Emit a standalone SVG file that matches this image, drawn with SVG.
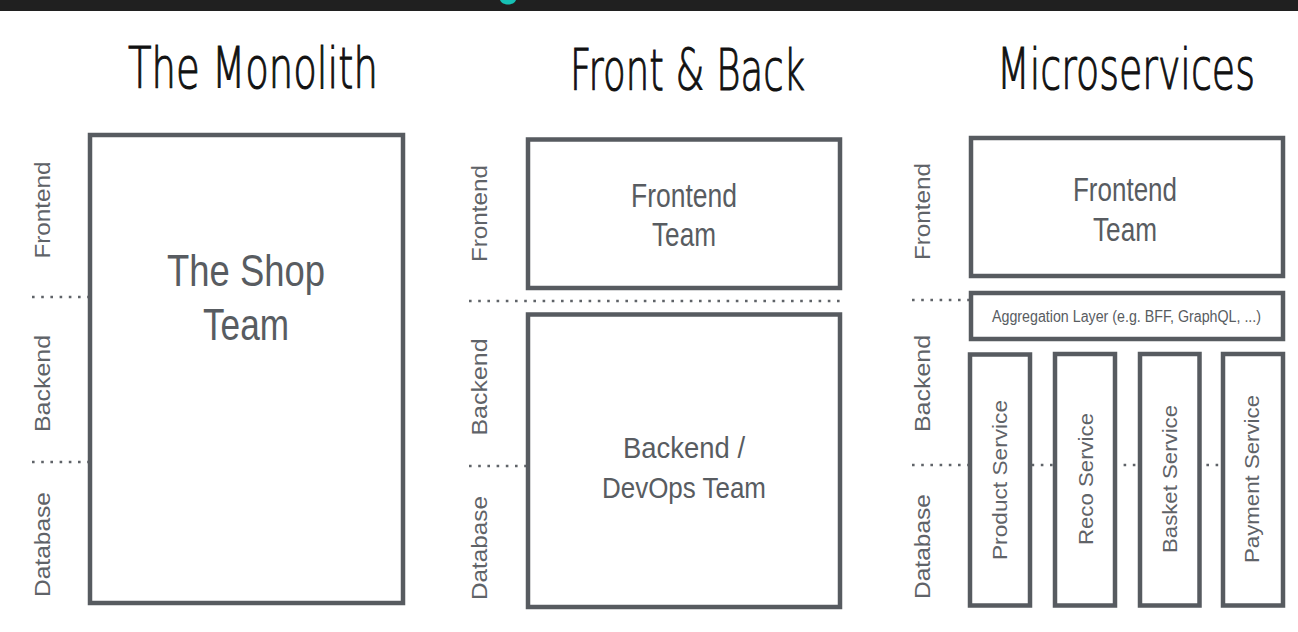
<svg xmlns="http://www.w3.org/2000/svg" width="1298" height="632" viewBox="0 0 1298 632">
  <style>
    .box { fill: #ffffff; stroke: #575b60; stroke-width: 4.5; }
    .div { stroke: #5f6368; stroke-width: 2.6; stroke-dasharray: 2.6 6.6; fill: none; }
    .title { font-family: "DejaVu Sans", "Liberation Sans", sans-serif; font-weight: 200; font-size: 57px; fill: #111111; stroke: #111111; stroke-width: 1.1; }
    .lbl { font-family: "Liberation Sans", Arial, sans-serif; font-size: 22px; fill: #5f6368; text-anchor: middle; }
    .big { font-family: "Liberation Sans", Arial, sans-serif; fill: #585c61; text-anchor: middle; }
    .svc { font-family: "Liberation Sans", Arial, sans-serif; font-size: 20px; fill: #5f6368; text-anchor: middle; }
  </style>

  <!-- header strip -->
  <rect x="0" y="0" width="1298" height="11" fill="#202020"/>
  <path d="M500,0 C502,6 514,6 516,0 Z" fill="#16c0b4"/>

  <!-- column titles, drawn condensed -->
  <g id="titles">
    <text class="title" transform="translate(128,88) scale(0.62,1)" textLength="403" lengthAdjust="spacingAndGlyphs">The Monolith</text>
    <text class="title" transform="translate(570,90) scale(0.62,1)" textLength="379" lengthAdjust="spacingAndGlyphs">Front &amp; Back</text>
    <text class="title" transform="translate(997,89) scale(0.62,1)" textLength="416" lengthAdjust="spacingAndGlyphs">Microservices</text>
  </g>

  <!-- layer dividers -->
  <g id="connectors">
    <line class="div" x1="32" y1="297" x2="88" y2="297"/>
    <line class="div" x1="32" y1="462" x2="88" y2="462"/>
    <line class="div" x1="469" y1="301" x2="842" y2="301"/>
    <line class="div" x1="469" y1="466" x2="526" y2="466"/>
    <line class="div" x1="912" y1="300" x2="969" y2="300"/>
    <line class="div" x1="912" y1="465" x2="1222" y2="465"/>
  </g>

  <!-- layer labels -->
  <g id="layer-labels">
    <text class="lbl" transform="translate(50,210) rotate(-90)" textLength="97" lengthAdjust="spacingAndGlyphs">Frontend</text>
    <text class="lbl" transform="translate(50,383.5) rotate(-90)" textLength="97" lengthAdjust="spacingAndGlyphs">Backend</text>
    <text class="lbl" transform="translate(50,544.5) rotate(-90)" textLength="105" lengthAdjust="spacingAndGlyphs">Database</text>

    <text class="lbl" transform="translate(487,213.5) rotate(-90)" textLength="97" lengthAdjust="spacingAndGlyphs">Frontend</text>
    <text class="lbl" transform="translate(487,387) rotate(-90)" textLength="97" lengthAdjust="spacingAndGlyphs">Backend</text>
    <text class="lbl" transform="translate(487,548) rotate(-90)" textLength="104" lengthAdjust="spacingAndGlyphs">Database</text>

    <text class="lbl" transform="translate(930,211.5) rotate(-90)" textLength="97" lengthAdjust="spacingAndGlyphs">Frontend</text>
    <text class="lbl" transform="translate(930,383.5) rotate(-90)" textLength="97" lengthAdjust="spacingAndGlyphs">Backend</text>
    <text class="lbl" transform="translate(930,546.5) rotate(-90)" textLength="105" lengthAdjust="spacingAndGlyphs">Database</text>
  </g>

  <!-- The Monolith -->
  <g id="shop-team">
    <rect class="box" x="90" y="135" width="313" height="468"/>
    <text class="big" x="246" y="286" font-size="45" textLength="158" lengthAdjust="spacingAndGlyphs">The Shop</text>
    <text class="big" x="246" y="340" font-size="45" textLength="86" lengthAdjust="spacingAndGlyphs">Team</text>
  </g>

  <!-- Front & Back -->
  <g id="fb-frontend-team">
    <rect class="box" x="528" y="139.5" width="312" height="148.5"/>
    <text class="big" x="684" y="207" font-size="33" textLength="106" lengthAdjust="spacingAndGlyphs">Frontend</text>
    <text class="big" x="684" y="246" font-size="33" textLength="64" lengthAdjust="spacingAndGlyphs">Team</text>
  </g>
  <g id="fb-backend-team">
    <rect class="box" x="528" y="314.5" width="312" height="292.5"/>
    <text class="big" x="684" y="458" font-size="30" textLength="122" lengthAdjust="spacingAndGlyphs">Backend /</text>
    <text class="big" x="684" y="498" font-size="30" textLength="164" lengthAdjust="spacingAndGlyphs">DevOps Team</text>
  </g>

  <!-- Microservices -->
  <g id="ms-frontend-team">
    <rect class="box" x="971" y="138" width="312" height="138"/>
    <text class="big" x="1125" y="201" font-size="33" textLength="104" lengthAdjust="spacingAndGlyphs">Frontend</text>
    <text class="big" x="1125" y="241" font-size="33" textLength="64" lengthAdjust="spacingAndGlyphs">Team</text>
  </g>
  <g id="aggregation-layer">
    <rect class="box" x="971" y="293" width="312" height="46"/>
    <text class="big" x="1126.5" y="322" font-size="16" textLength="269" lengthAdjust="spacingAndGlyphs">Aggregation Layer (e.g. BFF, GraphQL, ...)</text>
  </g>
  <g id="product-service">
    <rect class="box" x="970" y="354.5" width="60" height="251"/>
    <text class="svc" transform="translate(1007,480) rotate(-90)" textLength="160" lengthAdjust="spacingAndGlyphs">Product Service</text>
  </g>
  <g id="reco-service">
    <rect class="box" x="1055" y="354" width="60" height="251.5"/>
    <text class="svc" transform="translate(1093,479) rotate(-90)" textLength="132" lengthAdjust="spacingAndGlyphs">Reco Service</text>
  </g>
  <g id="basket-service">
    <rect class="box" x="1140" y="354" width="59.5" height="251.5"/>
    <text class="svc" transform="translate(1177,479) rotate(-90)" textLength="148" lengthAdjust="spacingAndGlyphs">Basket Service</text>
  </g>
  <g id="payment-service">
    <rect class="box" x="1223" y="354" width="60" height="251.5"/>
    <text class="svc" transform="translate(1259,479) rotate(-90)" textLength="168" lengthAdjust="spacingAndGlyphs">Payment Service</text>
  </g>
</svg>
